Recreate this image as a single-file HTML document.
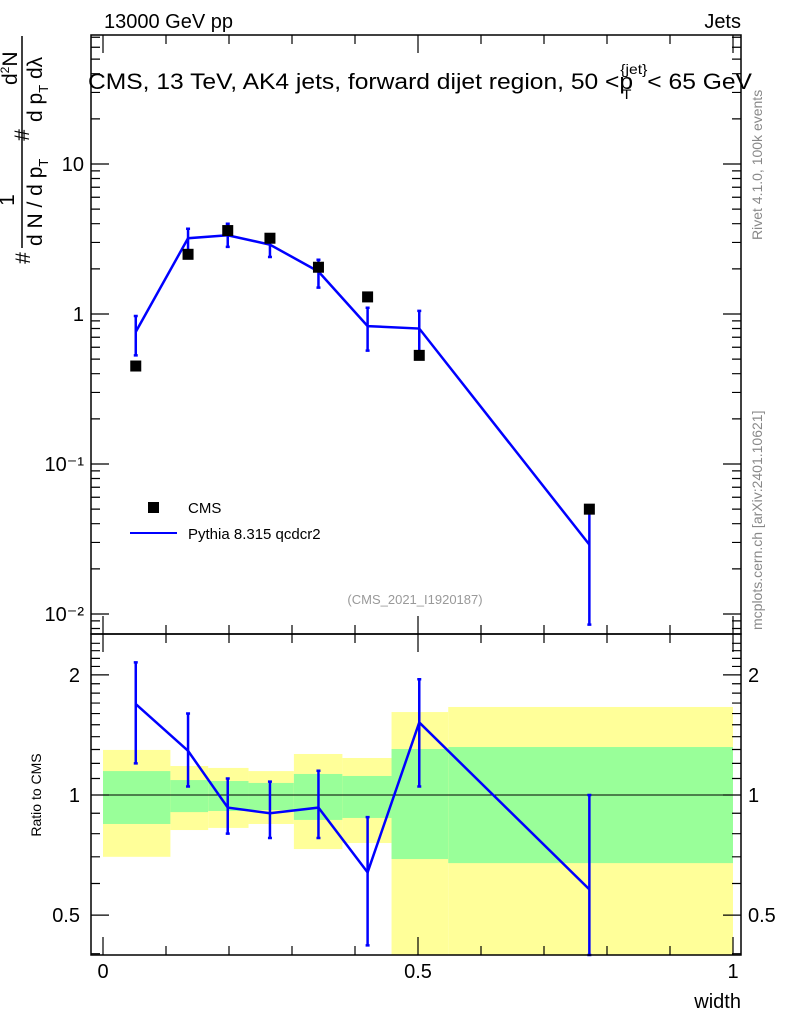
<!DOCTYPE html>
<html><head><meta charset="utf-8"><style>
body{margin:0;background:#fff}
svg{display:block;font-family:"Liberation Sans",Arial,sans-serif}
</style></head><body>
<svg id="c" width="786" height="1024" viewBox="0 0 786 1024" xmlns="http://www.w3.org/2000/svg">
<text x="104" y="28" font-size="20">13000 GeV pp</text>
<text x="741" y="28" font-size="20" text-anchor="end">Jets</text>
<g id="bands"></g>
<g id="marks"></g>
<g id="axes"></g>
<rect x="91" y="35" width="650" height="599" fill="none" stroke="#000" stroke-width="1.5"/>
<rect x="91" y="634" width="650" height="321" fill="none" stroke="#000" stroke-width="1.5"/>
<text x="88" y="89" font-size="22" textLength="664" lengthAdjust="spacingAndGlyphs">CMS, 13 TeV, AK4 jets, forward dijet region, 50 &lt;p<tspan font-size="14" dy="10" dx="-10">T</tspan><tspan font-size="14" dy="-25" dx="-10">{jet}</tspan><tspan dy="15">&lt; 65 GeV</tspan></text>
<text x="415" y="604" font-size="13" fill="#999" text-anchor="middle">(CMS_2021_I1920187)</text>
<rect x="148" y="502" width="11" height="11" fill="#000"/>
<text x="188" y="513" font-size="15">CMS</text>
<line x1="130" y1="533" x2="177" y2="533" stroke="#00f" stroke-width="2"/>
<text x="188" y="539" font-size="15">Pythia 8.315 qcdcr2</text>
<g font-size="21">
<text transform="translate(30,258) rotate(-90)" text-anchor="middle">#</text>
<text transform="translate(14,200) rotate(-90)" text-anchor="middle">1</text>
<line x1="22" y1="248" x2="22" y2="36" stroke="#000" stroke-width="1.5"/>
<text transform="translate(42,246) rotate(-90)">d N / d p<tspan font-size="13" dy="6">T</tspan></text>
<text transform="translate(29,135) rotate(-90)" text-anchor="middle">#</text>
<text transform="translate(17,85) rotate(-90)">d<tspan font-size="12" dy="-8">2</tspan><tspan dy="8">N</tspan></text>
<text transform="translate(42,122) rotate(-90)">d p<tspan font-size="13" dy="6">T</tspan><tspan dy="-6"> dλ</tspan></text>
</g>
<text transform="translate(41,795) rotate(-90)" font-size="14" text-anchor="middle">Ratio to CMS</text>
<text x="741" y="1008" font-size="20" text-anchor="end">width</text>
<text transform="translate(762,240) rotate(-90)" font-size="14" fill="#888">Rivet 4.1.0,  100k events</text>
<text transform="translate(762,630) rotate(-90)" font-size="14" fill="#888">mcplots.cern.ch [arXiv:2401.10621]</text>
</svg>
<script>
const xs=[0.052,0.135,0.198,0.265,0.342,0.42,0.502,0.772];
const cms=[0.45,2.5,3.6,3.2,2.05,1.3,0.53,0.05];
const mc=[0.76,3.2,3.35,2.9,1.92,0.83,0.8,0.029];
const mcLo=[0.53,2.5,2.8,2.4,1.5,0.57,0.5,0.0085];
const mcHi=[0.97,3.7,4.0,3.4,2.3,1.1,1.05,0.05];
const ratio=[1.69,1.29,0.93,0.9,0.93,0.64,1.52,0.58];
const rLo=[1.2,1.05,0.8,0.78,0.78,0.42,1.05,0.3];
const rHi=[2.15,1.6,1.1,1.08,1.15,0.88,1.95,1.0];
const binEdges=[0,0.107,0.167,0.231,0.303,0.38,0.458,0.548,1];
const yelHi=[1.297,1.182,1.169,1.148,1.267,1.238,1.614,1.662];
const yelLo=[0.70,0.817,0.827,0.846,0.732,0.758,0.3,0.3];
const grnHi=[1.148,1.09,1.084,1.072,1.129,1.116,1.304,1.319];
const grnLo=[0.846,0.906,0.912,0.917,0.866,0.876,0.691,0.675];
const xTicks=[0,0.5,1];
const mainTicks=[10,1,0.1,0.01];
const mainTickLabels=["10","1","10⁻¹","10⁻²"];
const rTicks=[2,1,0.5];
const rTickLabels=["2","1","0.5"];
const NS="http://www.w3.org/2000/svg";
const X=v=>103+630*v;
const Y=v=>314-150*Math.log10(v);
const R=v=>{const p=795-399*Math.log10(v);return Math.max(634,Math.min(955,p));};
function mk(parent,tag,a){const e=document.createElementNS(NS,tag);for(const k in a)e.setAttribute(k,a[k]);document.getElementById(parent).appendChild(e);return e;}
for(let i=0;i<yelHi.length;i++){
 const x0=X(binEdges[i]),x1=X(binEdges[i+1]);
 let e=mk('bands','rect',{x:x0,y:R(yelHi[i]),width:x1-x0,height:R(yelLo[i])-R(yelHi[i]),fill:'#ffff99'});
 
 
 e=mk('bands','rect',{x:x0,y:R(grnHi[i]),width:x1-x0,height:R(grnLo[i])-R(grnHi[i]),fill:'#99ff99'});
 
 
}
let ln=mk('marks','line',{x1:91,x2:741,y1:R(1),y2:R(1),stroke:'#000','stroke-width':1});


function errbar(x,lo,hi,name){
 const e=mk('marks','path',{d:`M${x},${lo}V${hi}M${x-2},${lo}H${x+2}M${x-2},${hi}H${x+2}`,stroke:'#00f','stroke-width':2.5,fill:'none'});
 
 
}
for(let i=0;i<xs.length;i++){
 errbar(X(xs[i]),Y(mcLo[i]),Y(mcHi[i]),'mc-error-bar');
 errbar(X(xs[i]),R(rLo[i]),R(rHi[i]),'ratio-error-bar');
}
let p=mk('marks','polyline',{points:xs.map((x,i)=>X(x)+','+Y(mc[i])).join(' '),fill:'none',stroke:'#00f','stroke-width':2.5});


p=mk('marks','polyline',{points:xs.map((x,i)=>X(x)+','+R(ratio[i])).join(' '),fill:'none',stroke:'#00f','stroke-width':2.5});


for(let i=0;i<xs.length;i++){
 const e=mk('marks','rect',{x:X(xs[i])-5.5,y:Y(cms[i])-5.5,width:11,height:11,fill:'#000'});
 
 
}
let d='';
for(let dec=-3;dec<=1;dec++)for(let m=1;m<10;m++){const v=m*Math.pow(10,dec);const y=Y(v);if(y<36||y>633)continue;const L=m==1?18:9;d+=`M91,${y}h${L}M741,${y}h${-L}`;}
for(let v=0.4;v<=2.5;v+=0.1){const y=R(v);if(y<=635||y>=954)continue;const L=(Math.abs(v-1)<1e-6||Math.abs(v-2)<1e-6||Math.abs(v-0.5)<1e-6)?18:9;d+=`M91,${y}h${L}M741,${y}h${-L}`;}
for(let k=0;k<=10;k++){const x=X(k/10);const L=k%5==0?18:9;d+=`M${x},955v${-L}M${x},634v${-L}M${x},634v${L}M${x},35v${L}`;}
let ax=mk('axes','path',{d:d,stroke:'#000','stroke-width':1.2,fill:'none'});


mainTicks.forEach((v,i)=>{const t=mk('axes','text',{x:84,y:Y(v)+7,'font-size':20,'text-anchor':'end'});t.textContent=mainTickLabels[i];
 
 });
rTicks.forEach((v,i)=>{let t=mk('axes','text',{x:80,y:R(v)+7,'font-size':20,'text-anchor':'end'});t.textContent=rTickLabels[i];
 
 
 t=mk('axes','text',{x:748,y:R(v)+7,'font-size':20});t.textContent=rTickLabels[i];
 
 });
xTicks.forEach(v=>{const t=mk('axes','text',{x:X(v),y:978,'font-size':20,'text-anchor':'middle'});t.textContent=String(v);
 
 });
</script>
</body></html>
